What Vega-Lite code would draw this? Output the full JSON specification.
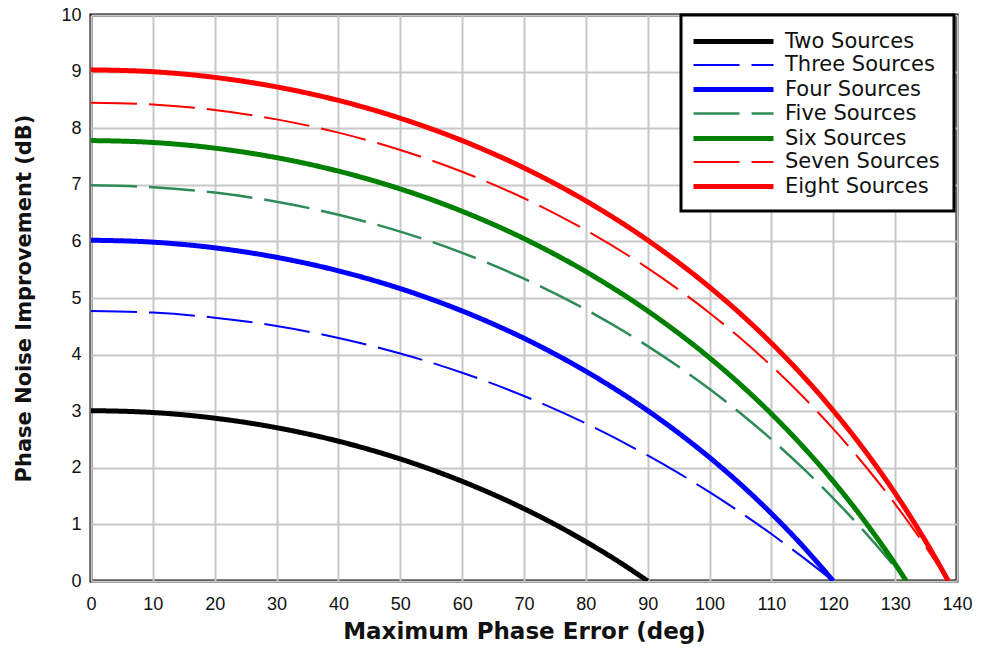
{
  "$schema": "https://vega.github.io/schema/vega-lite/v6.json",
  "width": 866,
  "height": 566,
  "autosize": "none",
  "padding": {"left": 91, "top": 15, "right": 25, "bottom": 70},
  "background": "white",
  "config": {
    "font": "Liberation Sans",
    "view": {"stroke": "black", "strokeWidth": 3},
    "axis": {
      "grid": true, "gridColor": "#c8c8c8", "gridWidth": 2, "tickSize": 0, "domain": false, "labelFlush": false,
      "labelFontSize": 18, "labelColor": "#111", "titleFont": "DejaVu Sans", "titleFontSize": 22, "titleFontWeight": "bold", "titleColor": "#111"
    }
  },
  "data": {"values": [
    {"s":"Two Sources","x":0,"y":3.010},{"s":"Two Sources","x":10,"y":2.977},{"s":"Two Sources","x":20,"y":2.877},{"s":"Two Sources","x":30,"y":2.709},{"s":"Two Sources","x":40,"y":2.470},{"s":"Two Sources","x":50,"y":2.156},{"s":"Two Sources","x":60,"y":1.761},{"s":"Two Sources","x":65,"y":1.531},{"s":"Two Sources","x":70,"y":1.278},{"s":"Two Sources","x":75,"y":1.000},{"s":"Two Sources","x":80,"y":0.695},{"s":"Two Sources","x":85,"y":0.363},{"s":"Two Sources","x":90,"y":0},
    {"s":"Three Sources","x":0,"y":4.771},{"s":"Three Sources","x":10,"y":4.742},{"s":"Three Sources","x":20,"y":4.653},{"s":"Three Sources","x":30,"y":4.505},{"s":"Three Sources","x":40,"y":4.294},{"s":"Three Sources","x":50,"y":4.020},{"s":"Three Sources","x":60,"y":3.680},{"s":"Three Sources","x":70,"y":3.269},{"s":"Three Sources","x":80,"y":2.783},{"s":"Three Sources","x":90,"y":2.218},{"s":"Three Sources","x":95,"y":1.905},{"s":"Three Sources","x":100,"y":1.569},{"s":"Three Sources","x":105,"y":1.211},{"s":"Three Sources","x":110,"y":0.830},{"s":"Three Sources","x":115,"y":0.426},{"s":"Three Sources","x":120,"y":0},
    {"s":"Four Sources","x":0,"y":6.021},{"s":"Four Sources","x":10,"y":5.987},{"s":"Four Sources","x":20,"y":5.887},{"s":"Four Sources","x":30,"y":5.719},{"s":"Four Sources","x":40,"y":5.480},{"s":"Four Sources","x":50,"y":5.166},{"s":"Four Sources","x":60,"y":4.771},{"s":"Four Sources","x":70,"y":4.288},{"s":"Four Sources","x":80,"y":3.705},{"s":"Four Sources","x":90,"y":3.010},{"s":"Four Sources","x":95,"y":2.614},{"s":"Four Sources","x":100,"y":2.182},{"s":"Four Sources","x":105,"y":1.710},{"s":"Four Sources","x":110,"y":1.192},{"s":"Four Sources","x":115,"y":0.625},{"s":"Four Sources","x":120,"y":0},
    {"s":"Five Sources","x":0,"y":6.990},{"s":"Five Sources","x":10,"y":6.958},{"s":"Five Sources","x":20,"y":6.862},{"s":"Five Sources","x":30,"y":6.701},{"s":"Five Sources","x":40,"y":6.472},{"s":"Five Sources","x":50,"y":6.173},{"s":"Five Sources","x":60,"y":5.798},{"s":"Five Sources","x":70,"y":5.341},{"s":"Five Sources","x":80,"y":4.795},{"s":"Five Sources","x":90,"y":4.150},{"s":"Five Sources","x":100,"y":3.391},{"s":"Five Sources","x":105,"y":2.964},{"s":"Five Sources","x":110,"y":2.502},{"s":"Five Sources","x":115,"y":2.002},{"s":"Five Sources","x":120,"y":1.461},{"s":"Five Sources","x":125,"y":0.876},{"s":"Five Sources","x":130,"y":0.242},{"s":"Five Sources","x":131.8,"y":0},
    {"s":"Six Sources","x":0,"y":7.782},{"s":"Six Sources","x":10,"y":7.748},{"s":"Six Sources","x":20,"y":7.648},{"s":"Six Sources","x":30,"y":7.480},{"s":"Six Sources","x":40,"y":7.241},{"s":"Six Sources","x":50,"y":6.927},{"s":"Six Sources","x":60,"y":6.532},{"s":"Six Sources","x":70,"y":6.049},{"s":"Six Sources","x":80,"y":5.466},{"s":"Six Sources","x":90,"y":4.771},{"s":"Six Sources","x":95,"y":4.375},{"s":"Six Sources","x":100,"y":3.943},{"s":"Six Sources","x":105,"y":3.470},{"s":"Six Sources","x":110,"y":2.953},{"s":"Six Sources","x":115,"y":2.386},{"s":"Six Sources","x":120,"y":1.761},{"s":"Six Sources","x":125,"y":1.069},{"s":"Six Sources","x":130,"y":0.300},{"s":"Six Sources","x":131.8,"y":0},
    {"s":"Seven Sources","x":0,"y":8.451},{"s":"Seven Sources","x":10,"y":8.419},{"s":"Seven Sources","x":20,"y":8.321},{"s":"Seven Sources","x":30,"y":8.156},{"s":"Seven Sources","x":40,"y":7.922},{"s":"Seven Sources","x":50,"y":7.616},{"s":"Seven Sources","x":60,"y":7.231},{"s":"Seven Sources","x":70,"y":6.762},{"s":"Seven Sources","x":80,"y":6.198},{"s":"Seven Sources","x":90,"y":5.528},{"s":"Seven Sources","x":100,"y":4.736},{"s":"Seven Sources","x":105,"y":4.288},{"s":"Seven Sources","x":110,"y":3.800},{"s":"Seven Sources","x":115,"y":3.268},{"s":"Seven Sources","x":120,"y":2.688},{"s":"Seven Sources","x":125,"y":2.054},{"s":"Seven Sources","x":130,"y":1.360},{"s":"Seven Sources","x":135,"y":0.596},{"s":"Seven Sources","x":138.6,"y":0},
    {"s":"Eight Sources","x":0,"y":9.031},{"s":"Eight Sources","x":10,"y":8.998},{"s":"Eight Sources","x":20,"y":8.898},{"s":"Eight Sources","x":30,"y":8.730},{"s":"Eight Sources","x":40,"y":8.491},{"s":"Eight Sources","x":50,"y":8.176},{"s":"Eight Sources","x":60,"y":7.781},{"s":"Eight Sources","x":70,"y":7.298},{"s":"Eight Sources","x":80,"y":6.716},{"s":"Eight Sources","x":90,"y":6.021},{"s":"Eight Sources","x":95,"y":5.624},{"s":"Eight Sources","x":100,"y":5.192},{"s":"Eight Sources","x":105,"y":4.720},{"s":"Eight Sources","x":110,"y":4.203},{"s":"Eight Sources","x":115,"y":3.635},{"s":"Eight Sources","x":120,"y":3.010},{"s":"Eight Sources","x":125,"y":2.318},{"s":"Eight Sources","x":130,"y":1.550},{"s":"Eight Sources","x":135,"y":0.688},{"s":"Eight Sources","x":138.6,"y":0}
  ]},
  "mark": {"type": "line", "interpolate": "monotone", "clip": true, "strokeCap": "butt"},
  "encoding": {
    "x": {"field": "x", "type": "quantitative", "scale": {"domain": [0, 140], "nice": false},
      "axis": {"values": [0,10,20,30,40,50,60,70,80,90,100,110,120,130,140], "title": "Maximum Phase Error (deg)", "titleFontSize": 23, "labelPadding": 14, "titlePadding": 7}},
    "y": {"field": "y", "type": "quantitative", "scale": {"domain": [0, 10], "nice": false},
      "axis": {"values": [0,1,2,3,4,5,6,7,8,9,10], "title": "Phase Noise Improvement (dB)", "titleFontSize": 21, "labelPadding": 10, "titlePadding": 26}},
    "color": {"field": "s", "type": "nominal",
      "scale": {"domain": ["Two Sources","Three Sources","Four Sources","Five Sources","Six Sources","Seven Sources","Eight Sources"],
                "range": ["#000000","#0000ff","#0000ff","#2e8b57","#008000","#ff0000","#ff0000"]},
      "legend": {"title": null, "orient": "none", "legendX": 590, "legendY": 0,
        "symbolType": "M-4,0H4", "symbolSize": 400, "symbolOffset": 26,
        "labelFont": "DejaVu Sans", "labelFontSize": 21, "labelColor": "#111", "labelOffset": 39, "padding": 14, "rowPadding": 2,
        "fillColor": "white", "strokeColor": "black",
        "encode": {"legend": {"update": {"strokeWidth": {"value": 3}}}}}},
    "strokeDash": {"field": "s", "type": "nominal",
      "scale": {"domain": ["Two Sources","Three Sources","Four Sources","Five Sources","Six Sources","Seven Sources","Eight Sources"],
                "range": [[1,0],[46,12],[1,0],[46,12],[1,0],[46,12],[1,0]]}},
    "strokeWidth": {"field": "s", "type": "nominal",
      "scale": {"type": "ordinal", "domain": ["Two Sources","Three Sources","Four Sources","Five Sources","Six Sources","Seven Sources","Eight Sources"],
                "range": [5, 2, 5, 2.5, 5, 2, 5]}}
  }
}
